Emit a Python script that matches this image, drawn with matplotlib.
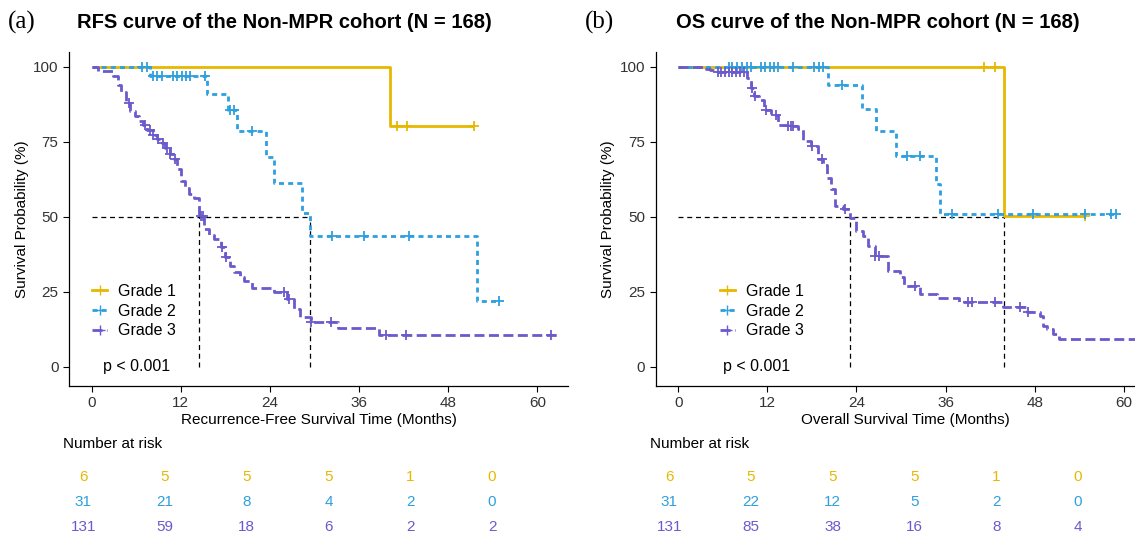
import matplotlib
matplotlib.use("Agg")
import matplotlib.pyplot as plt
from matplotlib.lines import Line2D
import numpy as np

# ---- data ----
groups = ["Grade 1", "Grade 2", "Grade 3"]
colors = ["#E7B800", "#2E9FDF", "#6A5ACD"]
time_breaks = [0, 12, 24, 36, 48, 60]

# RFS (panel a): step times (months) and survival (%) after each step
rfs_g1_t = [0, 40.2, 51.5]
rfs_g1_s = [100, 80.2, 80.2]
rfs_g1_cens = [41.1, 42.4, 51.5]

rfs_g2_t = [0, 7.9, 15.5, 18.3, 19.5, 23.4, 24.6, 28.3, 29.4, 51.9, 54.8]
rfs_g2_s = [100, 96.8, 90.9, 85.7, 78.5, 69.8, 61.1, 51.4, 43.6, 21.8, 21.8]
rfs_g2_cens = [6.8, 7.4, 8.3, 8.8, 9.4, 11.0, 11.5, 12.1, 12.7, 13.2, 15.2,
               18.6, 19.2, 21.6, 32.4, 36.6, 42.7, 54.8]

rfs_g3_t = [0, 0.9, 2.9, 3.5, 4.0, 4.6, 5.2, 5.8, 6.4, 6.9, 7.5, 8.2, 8.8, 9.4,
            9.9, 10.5, 11.1, 11.5, 12.0, 12.6, 13.1, 13.8, 14.4, 15.1, 15.8,
            16.5, 17.4, 17.9, 18.6, 19.2, 20.0, 20.5, 21.6, 24.5, 26.3, 27.2,
            28.1, 29.5, 33.1, 38.7, 63.0]
rfs_g3_s = [100, 98.5, 96.8, 94.0, 91.5, 88.0, 85.2, 83.5, 82.0, 80.5, 79.0,
            77.4, 76.0, 74.5, 73.0, 71.0, 69.1, 65.8, 61.9, 59.5, 57.5, 56.4,
            50.3, 45.8, 44.0, 42.5, 39.8, 36.5, 33.5, 31.5, 30.0, 28.7, 26.1,
            24.8, 22.6, 19.3, 16.5, 14.8, 12.9, 10.6, 10.6]
rfs_g3_cens = [5.0, 7.2, 7.8, 8.3, 8.9, 9.6, 10.1, 10.6, 11.2, 14.7, 15.0,
               17.6, 18.1, 25.9, 26.5, 29.5, 32.2, 39.6, 42.3, 61.8]

# OS (panel b)
os_g1_t = [0, 43.8, 54.8]
os_g1_s = [100, 50.3, 50.3]
os_g1_cens = [41.2, 42.6, 54.8]

os_g2_t = [0, 20.2, 24.8, 26.6, 29.3, 34.7, 35.3, 58.9]
os_g2_s = [100, 94.0, 85.9, 78.5, 70.4, 60.8, 50.8, 50.8]
os_g2_cens = [6.8, 7.3, 7.9, 8.6, 9.2, 9.8, 11.1, 11.7, 12.3, 12.9, 13.4, 15.5,
              18.3, 18.9, 19.5, 22.0, 30.8, 32.6, 36.9, 43.0, 47.8, 54.8,
              58.2, 58.9]

os_g3_t = [0, 3.7, 4.3, 5.3, 9.3, 9.8, 10.2, 10.9, 11.6, 12.5, 13.4, 14.8,
           16.1, 16.8, 17.9, 18.8, 19.5, 20.0, 20.6, 21.1, 22.2, 23.1, 24.0,
           24.9, 25.6, 26.5, 28.3, 29.9, 30.4, 32.6, 34.9, 37.8, 43.7, 46.9,
           48.7, 49.1, 49.6, 50.5, 51.2, 63.0]
os_g3_s = [100, 99.2, 98.8, 98.1, 96.2, 92.9, 90.1, 89.0, 85.7, 84.0, 80.7,
           80.2, 79.1, 75.2, 73.5, 69.1, 67.4, 63.0, 59.1, 53.6, 52.7, 49.7,
           45.3, 43.6, 40.3, 37.0, 32.0, 29.8, 27.0, 24.3, 22.8, 21.7, 19.8,
           18.2, 17.0, 13.7, 12.6, 11.0, 9.1, 9.1]
os_g3_cens = [5.3, 5.8, 6.3, 6.8, 7.3, 7.8, 8.3, 8.9, 10.0, 10.4, 11.8, 13.1,
              14.8, 15.2, 15.5, 18.0, 19.3, 22.4, 26.5, 27.0, 31.9, 39.0,
              39.6, 42.6, 46.0, 47.1]

rfs_medians = [14.4, 29.4]
os_medians = [23.1, 43.8]

rfs_risk = [[6, 5, 5, 5, 1, 0], [31, 21, 8, 4, 2, 0], [131, 59, 18, 6, 2, 2]]
os_risk = [[6, 5, 5, 5, 1, 0], [31, 22, 12, 5, 2, 0], [131, 85, 38, 16, 8, 4]]

# ---- figure ----
W, H = 1135, 539
fig = plt.figure(figsize=(W / 100, H / 100), dpi=100)
plt.rcParams["font.family"] = ["Liberation Sans", "DejaVu Sans"]

linestyles = ["-", (0, (1.8, 1.5)), (0, (3.6, 1.6))]
PX = 7.43  # pixels per month in the survival panels
Y_TOP, Y_BOT = 52, 386  # panel edges in pixels (100 % at 66.7, 0 % at 366.7)


def px_axes(x0, y0, x1, y1):
    return fig.add_axes([x0 / W, 1 - y1 / H, (x1 - x0) / W, (y1 - y0) / H])


def surv_at(t_steps, s_steps, t):
    idx = np.searchsorted(t_steps, t, side="right") - 1
    return np.array(s_steps)[idx]


def km_panel(ax, curves, medians, xlabel, legend_x, p_x):
    for (t, s, c), col, ls, name in zip(curves, colors, linestyles, groups):
        ax.step(t, s, where="post", color=col, lw=2.0, linestyle=ls,
                solid_capstyle="butt", dash_capstyle="butt", zorder=3)
        ax.plot(c, surv_at(t, s, c), linestyle="none", marker="+",
                markersize=7.5, markeredgewidth=1.3, color=col, zorder=4)
    ax.plot([0, max(medians)], [50, 50], color="black", lw=0.9,
            linestyle=(0, (4, 3)), zorder=2)
    for m in medians:
        ax.plot([m, m], [0, 50], color="black", lw=0.9,
                linestyle=(0, (4, 3)), zorder=2)

    ax.set_xlim(-3.05, (568 - 91.7) / PX)
    ax.set_ylim(-(Y_BOT - 366.7) / 3.0, 100 + (66.7 - Y_TOP) / 3.0)
    ax.set_xticks(time_breaks)
    ax.set_yticks([0, 25, 50, 75, 100])
    ax.tick_params(labelsize=11, labelcolor="#333333", color="black",
                   length=4, width=0.8)
    for side in ["top", "right"]:
        ax.spines[side].set_visible(False)
    for side in ["left", "bottom"]:
        ax.spines[side].set_linewidth(0.9)
    ax.set_xlabel(xlabel, fontsize=11, labelpad=2)
    ax.set_ylabel("Survival Probability (%)", fontsize=11, labelpad=3)

    handles = [Line2D([0], [0], color=col, lw=2.0, linestyle=ls, marker="+",
                      markersize=7) for col, ls in zip(colors, linestyles)]
    ax.legend(handles, groups, loc="upper left", frameon=False, fontsize=11.5,
              bbox_to_anchor=(legend_x, 0.325), handlelength=0.9,
              handletextpad=0.7, labelspacing=0.3, borderaxespad=0)
    ax.text(p_x, 0, "p < 0.001", fontsize=11.5, va="center", ha="left")


def risk_table(x0, x1, risk):
    rax = px_axes(x0, 464.5, x1, 539.5)
    rax.set_xlim(-3.05, 64.1)
    rax.set_ylim(3.5, 0.5)
    rax.axis("off")
    for row, (vals, col) in enumerate(zip(risk, colors), start=1):
        for t, v in zip(time_breaks, vals):
            rax.text(t, row, str(v), color=col, fontsize=11,
                     ha="center", va="center")


ax1 = px_axes(69, Y_TOP, 568, Y_BOT)
km_panel(ax1, [(rfs_g1_t, rfs_g1_s, rfs_g1_cens),
               (rfs_g2_t, rfs_g2_s, rfs_g2_cens),
               (rfs_g3_t, rfs_g3_s, rfs_g3_cens)],
         rfs_medians, "Recurrence-Free Survival Time (Months)", 0.034, 1.5)

ax2 = px_axes(655.5, Y_TOP, 1154.5, Y_BOT)
km_panel(ax2, [(os_g1_t, os_g1_s, os_g1_cens),
               (os_g2_t, os_g2_s, os_g2_cens),
               (os_g3_t, os_g3_s, os_g3_cens)],
         os_medians, "Overall Survival Time (Months)", 0.117, 6.0)

risk_table(62.5, 520, rfs_risk)
risk_table(648.5, 1106, os_risk)
fig.text(63 / W, 1 - 444 / H, "Number at risk", fontsize=11, va="center")
fig.text(650 / W, 1 - 444 / H, "Number at risk", fontsize=11, va="center")

fig.text(284 / W, 1 - 22 / H, "RFS curve of the Non-MPR cohort (N = 168)",
         fontsize=14.5, fontweight="bold", ha="center", va="center")
fig.text(878 / W, 1 - 22 / H, "OS curve of the Non-MPR cohort (N = 168)",
         fontsize=14.5, fontweight="bold", ha="center", va="center")
fig.text(8 / W, 1 - 22 / H, "(a)", fontsize=18, family="Liberation Serif",
         ha="left", va="center")
fig.text(585 / W, 1 - 22 / H, "(b)", fontsize=18, family="Liberation Serif",
         ha="left", va="center")

fig.savefig("out.png", dpi=100)
